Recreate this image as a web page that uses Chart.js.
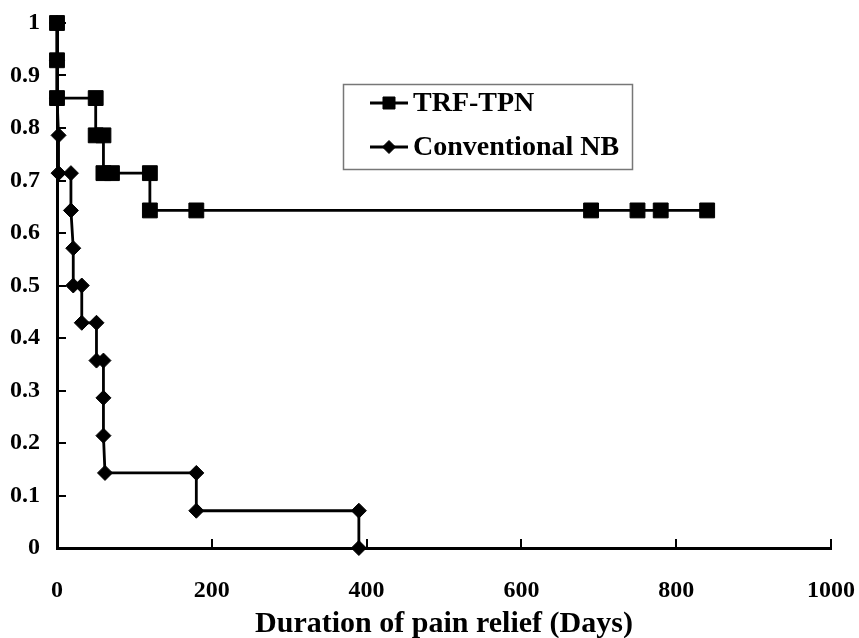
<!DOCTYPE html>
<html>
<head>
<meta charset="utf-8">
<script src="https://cdn.jsdelivr.net/npm/chart.js@4/dist/chart.umd.min.js"></script>
<style>
  html, body { margin: 0; padding: 0; background: #fff; }
  canvas { display: block; }
</style>
</head>
<body>
<canvas id="chart" width="859" height="638"></canvas>
<script>
// Kaplan-Meier style steps (days, proportion)
const trfDays = [0, 0, 0, 50, 50, 60, 60, 71, 120, 120, 180, 690, 750, 780, 840]
const trfSurv = [1, 0.929, 0.857, 0.857, 0.786, 0.786, 0.714, 0.714, 0.714, 0.643, 0.643, 0.643, 0.643, 0.643, 0.643]

const convDays = [0, 0, 0, 2, 2, 18, 18, 21, 21, 32, 32, 51, 51, 60, 60, 60, 62, 180, 180, 390, 390]
const convSurv = [1, 0.929, 0.857, 0.786, 0.714, 0.714, 0.643, 0.571, 0.5, 0.5, 0.429, 0.429, 0.357, 0.357, 0.286, 0.214, 0.143, 0.143, 0.071, 0.071, 0]

const seriesLabels = ['TRF-TPN', 'Conventional NB']
const xTitle = 'Duration of pain relief (Days)'

const FONT = "'Liberation Serif', 'Times New Roman', serif"

function toPoints(xs, ys){ return xs.map((x, i) => ({ x, y: ys[i] })) }

// short tick marks pointing into the plot (Excel style)
const innerTicks = {
  id: 'innerTicks',
  afterDraw(chart){
    const { ctx, scales: { x, y } } = chart
    const len = 9
    ctx.save()
    ctx.strokeStyle = '#000'
    ctx.lineWidth = 2
    ctx.beginPath()
    x.ticks.forEach(t => {
      if (t.value === x.min) return
      const px = Math.round(x.getPixelForValue(t.value))
      ctx.moveTo(px, y.bottom); ctx.lineTo(px, y.bottom - len)
    })
    y.ticks.forEach(t => {
      if (t.value === y.min) return
      const py = Math.round(y.getPixelForValue(t.value))
      ctx.moveTo(x.left, py); ctx.lineTo(x.left + len, py)
    })
    ctx.stroke()
    ctx.restore()
  }
}

// boxed legend inside the plot, like the original
const boxLegend = {
  id: 'boxLegend',
  afterDraw(chart){
    const ctx = chart.ctx
    const box = { x: 343.5, y: 84.5, w: 289, h: 85 }
    const rows = [103, 147]
    ctx.save()
    ctx.strokeStyle = '#777'
    ctx.lineWidth = 1.5
    ctx.strokeRect(box.x, box.y, box.w, box.h)
    chart.data.datasets.forEach((ds, i) => {
      const y = rows[i]
      ctx.strokeStyle = '#000'
      ctx.lineWidth = 2.8
      ctx.beginPath(); ctx.moveTo(370, y); ctx.lineTo(408, y); ctx.stroke()
      ctx.fillStyle = '#000'
      ctx.lineWidth = 1
      Chart.helpers.drawPoint(ctx, { pointStyle: ds.pointStyle, radius: ds.legendRadius, borderWidth: 1, rotation: 0 }, 389, y)
      ctx.fillStyle = '#000'
      ctx.font = 'bold 28px ' + FONT
      ctx.textBaseline = 'middle'
      ctx.textAlign = 'left'
      ctx.fillText(ds.label, 413, y + 1)
    })
    ctx.restore()
  }
}

const ctx = document.getElementById('chart').getContext('2d')
new Chart(ctx, {
  type: 'line',
  data: {
    datasets: [
      { label: seriesLabels[0], data: toPoints(trfDays, trfSurv), pointStyle: 'rect', pointRadius: 10.5, legendRadius: 8.5, clip: false,
        borderColor: '#000', backgroundColor: '#000', pointBackgroundColor: '#000', pointBorderColor: '#000', pointBorderWidth: 1, borderWidth: 2.8 },
      { label: seriesLabels[1], data: toPoints(convDays, convSurv), pointStyle: 'rectRot', pointRadius: 7.5, legendRadius: 6.5, clip: false,
        borderColor: '#000', backgroundColor: '#000', pointBackgroundColor: '#000', pointBorderColor: '#000', pointBorderWidth: 1, borderWidth: 2.8 }
    ]
  },
  options: {
    responsive: false,
    animation: false,
    layout: { padding: { top: 23, right: 28, left: 0, bottom: 0 } },
    plugins: { legend: { display: false }, tooltip: { enabled: false } },
    scales: {
      x: {
        type: 'linear', min: 0, max: 1000,
        afterFit: s => { s.height = 90; s.paddingLeft = 0; s.paddingRight = 0 },
        border: { color: '#000', width: 3 },
        grid: { display: false, drawTicks: false },
        ticks: { stepSize: 200, color: '#000', padding: 28, maxRotation: 0, font: { family: FONT, size: 24, weight: 'bold' },
          callback: v => String(v) },
        title: { display: true, text: xTitle, color: '#000', padding: 0, font: { family: FONT, size: 30, weight: 'bold', lineHeight: 0.9 } }
      },
      y: {
        type: 'linear', min: 0, max: 1,
        afterFit: s => { s.width = 57; s.paddingTop = 0; s.paddingBottom = 0 },
        border: { color: '#000', width: 3 },
        grid: { display: false, drawTicks: false },
        ticks: { stepSize: 0.1, color: '#000', padding: 17, font: { family: FONT, size: 24, weight: 'bold' },
          callback: v => String(Math.round(v * 10) / 10) }
      }
    }
  },
  plugins: [innerTicks, boxLegend]
})
</script>
</body>
</html>
